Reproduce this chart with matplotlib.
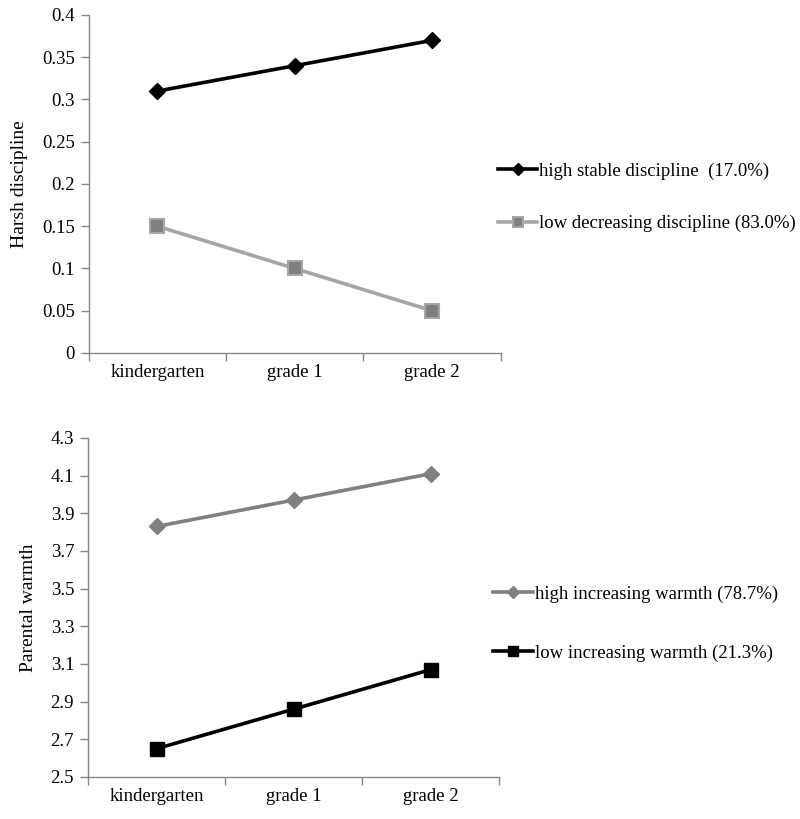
import numpy as np
import matplotlib
matplotlib.use('Agg')
import matplotlib.pyplot as plt

plt.rcParams['font.family'] = ['Liberation Serif', 'DejaVu Serif']

grades = ['kindergarten', 'grade 1', 'grade 2']

# harsh discipline trajectories
high_discipline = [0.31, 0.34, 0.37]
low_discipline = [0.15, 0.10, 0.05]
discipline_labels = ['high stable discipline  (17.0%)', 'low decreasing discipline (83.0%)']
discipline_ticks = [0, 0.05, 0.1, 0.15, 0.2, 0.25, 0.3, 0.35, 0.4]

# parental warmth trajectories
high_warmth = [3.83, 3.97, 4.11]
low_warmth = [2.65, 2.86, 3.07]
warmth_labels = ['high increasing warmth (78.7%)', 'low increasing warmth (21.3%)']
warmth_ticks = [2.5, 2.7, 2.9, 3.1, 3.3, 3.5, 3.7, 3.9, 4.1, 4.3]

FS = 13.5
AXIS_GRAY = '#868686'


def style_axes(ax, yticks, ylabel):
    ''' excel-like look: gray left/bottom spines, ticks between categories '''
    x = np.arange(len(grades))
    ax.set_xlim(-0.5, len(grades) - 0.5)
    ax.set_xticks(x)
    ax.set_xticklabels(grades, fontsize=FS)
    ax.tick_params(axis='x', which='major', length=0, pad=8)
    ax.set_xticks(np.arange(len(grades) + 1) - 0.5, minor=True)
    ax.tick_params(axis='x', which='minor', length=6, color=AXIS_GRAY, width=1)
    ax.set_ylim(yticks[0], yticks[-1])
    ax.set_yticks(yticks)
    ax.set_yticklabels([f'{t:g}' for t in yticks], fontsize=FS)
    ax.tick_params(axis='y', length=6, color=AXIS_GRAY, width=1, pad=4)
    for side in ['top', 'right']:
        ax.spines[side].set_visible(False)
    for side in ['left', 'bottom']:
        ax.spines[side].set_color(AXIS_GRAY)
        ax.spines[side].set_linewidth(1)
    ax.set_ylabel(ylabel, fontsize=14, labelpad=10)


fig = plt.figure(figsize=(8, 8.19), dpi=100)
x = np.arange(len(grades))

# top panel
ax1 = fig.add_axes([0.111, 0.569, 0.515, 0.4127])
ax1.plot(x, high_discipline, color='black', lw=2.6, marker='D', ms=8.5,
         mfc='black', mec='black', label=discipline_labels[0], clip_on=False)
ax1.plot(x, low_discipline, color='#a6a6a6', lw=2.6, marker='s', ms=10,
         mfc='#7f7f7f', mec='#a6a6a6', mew=1.5, label=discipline_labels[1], clip_on=False)
style_axes(ax1, discipline_ticks, 'Harsh discipline')
ax1.legend(loc='center left', bbox_to_anchor=(0.97, 0.46), frameon=False,
           fontsize=FS, handlelength=2.1, handletextpad=0.1, labelspacing=1.88,
           borderpad=0, markerscale=0.72)

# bottom panel
ax2 = fig.add_axes([0.110, 0.0513, 0.514, 0.414])
ax2.plot(x, high_warmth, color='#808080', lw=2.6, marker='D', ms=8.5,
         mfc='#808080', mec='#808080', label=warmth_labels[0], clip_on=False)
ax2.plot(x, low_warmth, color='black', lw=2.6, marker='s', ms=10.5,
         mfc='black', mec='black', label=warmth_labels[1], clip_on=False)
style_axes(ax2, warmth_ticks, 'Parental warmth')
ax2.legend(loc='center left', bbox_to_anchor=(0.963, 0.453), frameon=False,
           fontsize=FS, handlelength=2.1, handletextpad=0.1, labelspacing=2.22,
           borderpad=0, markerscale=0.72)

fig.savefig('out.png', dpi=100)
